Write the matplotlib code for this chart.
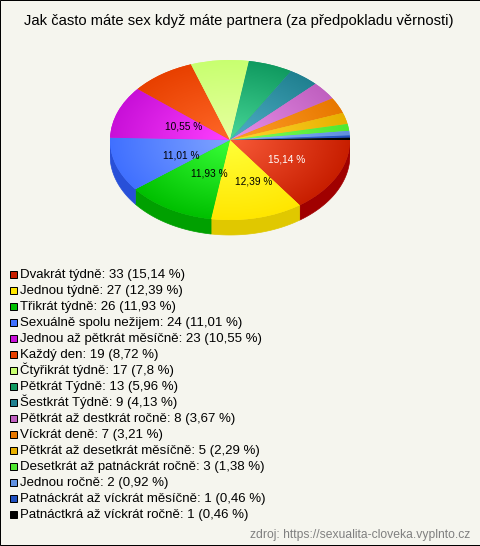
#! /usr/bin/env python
# -*- coding: utf-8 -*-

import numpy as np
import matplotlib
matplotlib.use('Agg')
import matplotlib.pyplot as plt
from matplotlib.patches import Rectangle
from matplotlib.colors import to_rgb

plt.rcParams['font.family'] = ['Liberation Sans', 'DejaVu Sans']

title = 'Jak často máte sex když máte partnera (za předpokladu věrnosti)'
source = 'zdroj: https://sexualita-cloveka.vyplnto.cz'

categories = ['Dvakrát týdně', 'Jednou týdně', 'Třikrát týdně', 'Sexuálně spolu nežijem',
              'Jednou až pětkrát měsíčně', 'Každý den', 'Čtyřikrát týdně', 'Pětkrát Týdně',
              'Šestkrát Týdně', 'Pětkrát až destkrát ročně', 'Víckrát deně',
              'Pětkrát až desetkrát měsíčně', 'Desetkrát až patnáckrát ročně', 'Jednou ročně',
              'Patnáckrát až víckrát měsíčně', 'Patnáctkrá až víckrát ročně']
counts = [33, 27, 26, 24, 23, 19, 17, 13, 9, 8, 7, 5, 3, 2, 1, 1]
percents = ['15,14', '12,39', '11,93', '11,01', '10,55', '8,72', '7,8', '5,96',
            '4,13', '3,67', '3,21', '2,29', '1,38', '0,92', '0,46', '0,46']
colors = ['#C81E00', '#FFE600', '#00C000', '#4070FF', '#C810D8', '#E84000', '#C8FF70', '#109A60',
          '#208090', '#C060C0', '#E87800', '#E8B000', '#50E830', '#6090E0', '#2050C0', '#000000']
inner_colors = ['#F85A38', '#FFFF38', '#38FF38', '#80A4FF', '#FF40FF', '#FF6828', '#E8FFA0', '#48D898',
                '#50B0C8', '#E890E8', '#FFA028', '#FFD830', '#80FF60', '#90B8FF', '#5080F0', '#303030']
side_colors = ['#A00000', '#E0C800', '#00A000', '#2850D8']

W, H = 480, 546
BG = '#F5F5EE'
cx, cy, rx, ry, depth = 230, 140, 120, 80, 15
# pixel nudges for the five percent labels
label_nudge = [(3.5, 1), (10, 3), (9.5, -1), (8, 2.6), (10, 1)]

fig = plt.figure(figsize=(W / 100, H / 100), dpi=100, facecolor=BG)

# overlay in pixel coordinates for the text and the legend
bg = fig.add_axes([0, 0, 1, 1])
bg.set_xlim(0, W)
bg.set_ylim(H, 0)
bg.axis('off')
# frame on the left, top and bottom edges
bg.plot([W, 0.5, 0.5, W], [0.5, 0.5, H - 0.5, H - 0.5], color='black', lw=0.72, clip_on=False,
        solid_joinstyle='miter', snap=False)
bg.text(238.5, 25, title, ha='center', va='baseline', fontsize=10.67, color='black')

# pie axes: one data unit is rx / ry pixels, leaving room below for the side wall
y_bottom = cy + ry + 2 * depth
ax = fig.add_axes([(cx - rx) / W, 1 - y_bottom / H, 2 * rx / W, (y_bottom - cy + ry) / H])

wedges, _ = ax.pie(counts, colors=colors, startangle=0, counterclock=False, radius=1)
ax.set_aspect('auto')

# side wall, lower half of the ellipse only
fractions = np.array(counts) / sum(counts)
edges = np.concatenate([[0], np.cumsum(fractions)]) * 2 * np.pi
d = depth / ry
for i, side in enumerate(side_colors):
    t = np.linspace(edges[i], min(edges[i + 1], np.pi), 60)
    xs = np.cos(t)
    ys = -np.sin(t)
    ax.fill(np.r_[xs, xs[::-1]], np.r_[ys, ys[::-1] - d], color=side, lw=0.5, zorder=0)

# radial gradient in each slice
gx, gy = np.meshgrid(np.linspace(-1, 1, 500), np.linspace(-1, 1, 500))
radius = np.clip(np.hypot(gx, gy), 0, 1)[..., None]
for wedge, outer, inner in zip(wedges, colors, inner_colors):
    img = np.array(to_rgb(inner)) * (1 - radius) + np.array(to_rgb(outer)) * radius
    im = ax.imshow(img, extent=(-1, 1, -1, 1), origin='lower', aspect='auto', zorder=2)
    im.set_clip_path(wedge)
ax.set_xlim(-1, 1)
ax.set_ylim(-(y_bottom - cy) / ry, 1)

# percent labels for the large slices
mids = (edges[:-1] + edges[1:]) / 2
for i, (nx, ny) in enumerate(label_nudge):
    px = cx + 0.5 * rx * np.cos(mids[i]) + nx
    py = cy + 0.5 * ry * np.sin(mids[i]) + ny
    bg.text(px, py, percents[i] + ' %', ha='center', va='center', fontsize=7.3,
            color='white' if i == 0 else 'black', zorder=5)
bg.set_zorder(3)
bg.patch.set_visible(False)

# legend
for i, (name, count, pct, color) in enumerate(zip(categories, counts, percents, colors)):
    y = 274 + 16 * i
    bg.add_patch(Rectangle((9.5, y - 3.5), 7, 7, fc=color, ec='black', lw=0.72))
    bg.text(20, y + 4, '%s: %d (%s %%)' % (name, count, pct), ha='left', va='baseline',
            fontsize=9.57, color='black')

bg.text(470, 537.6, source, ha='right', va='baseline', fontsize=8.7, color='#808080')

fig.savefig('out.png', dpi=100, facecolor=BG)
